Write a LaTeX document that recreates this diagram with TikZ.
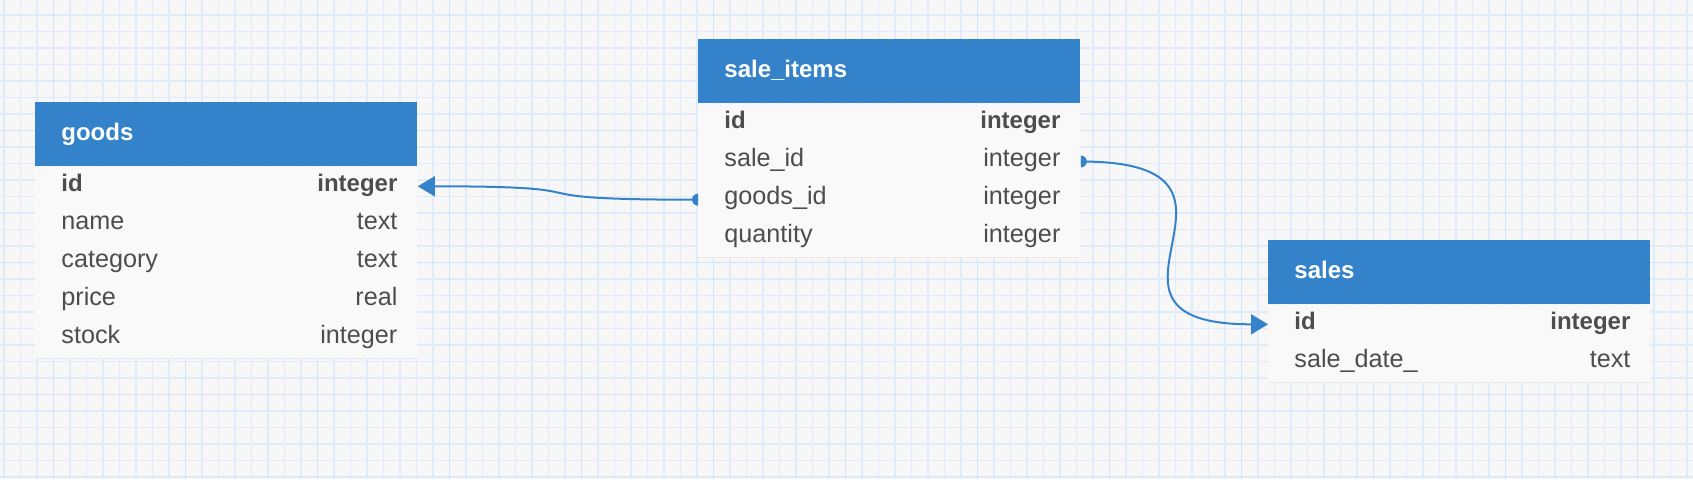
\documentclass[tikz,border=0pt]{standalone}
\usepackage{fontspec}
\setmainfont{Liberation Sans}
\usepackage{tikz}
\usetikzlibrary{positioning,arrows.meta,calc}
\definecolor{canvas}{HTML}{F7F7F8}
\definecolor{gridminor}{HTML}{E1EAF8}
\definecolor{gridmajor}{HTML}{D3E2F5}
\definecolor{hdrblue}{HTML}{3483CA}
\definecolor{rowbg}{HTML}{F9F9F9}
\definecolor{rowline}{HTML}{EBEBEB}
\definecolor{ink}{HTML}{4D4D4D}
\newcommand{\keyfont}{\fontsize{12}{14}\selectfont\bfseries}

\begin{document}
\begin{tikzpicture}[
    x=0.5pt, y=-0.5pt, font=\fontsize{12.6}{15}\selectfont,
    tbl/.style={fill=hdrblue, minimum width=191pt, minimum height=32pt,
      inner sep=0pt, anchor=north west},
    tbltitle/.style={anchor=base west, inner sep=0pt, text=white,
      font=\fontsize{12}{14}\selectfont\bfseries},
    tblrow/.style={fill=rowbg, minimum width=191pt, minimum height=19.1pt,
      inner sep=0pt, anchor=north west},
    fname/.style={anchor=base west, inner sep=0pt, text=ink},
    ftype/.style={anchor=base east, inner sep=0pt, text=ink},
    rowsep/.style={line width=0.5pt, draw=rowline},
    gmin/.style={line width=0.55pt, draw=gridminor},
    gmaj/.style={line width=0.75pt, draw=gridmajor},
    fk/.style={line width=1pt, draw=hdrblue,
      -{Triangle[length=8.5pt,width=10pt]}}
]
% canvas and grid
\fill[canvas] (0,0) rectangle (1693,479);
\useasboundingbox (0,0) rectangle (1693,479);
\foreach \k in {0,...,102}
  \draw[gmin] ({4+16.5*\k},0) -- ++(0,479);
\foreach \k in {1,...,29}
  \draw[gmin] (0,{-1.5+16.5*\k}) -- ++(1693,0);
\foreach \k in {0,...,12}
  \draw[gmaj] ({53.5+132*\k},0) -- ++(0,479);
\foreach \k in {1,2,3}
  \draw[gmaj] (0,{-1.5+132*\k}) -- ++(1693,0);

% goods
\node[tbl] (goods) at (35,102) {};
\node[tbltitle] (goodsT) at ([xshift=13pt,yshift=-3pt]goods.west) {goods};
\foreach \n/\t [count=\i] in {id/integer, name/text, category/text,
                              price/real, stock/integer}{
  \node[tblrow] (g\i) at ([yshift={-(\i-1)*19.1pt}]goods.south west) {};
  \node[fname] (gn\i) at ([xshift=13pt,yshift=-2.4pt]g\i.west)
    {\ifnum\i=1 \keyfont\fi\n};
  \node[ftype] (gt\i) at ([xshift=-10pt,yshift=-2.4pt]g\i.east)
    {\ifnum\i=1 \keyfont\fi\t};
  \draw[rowsep] (g\i.south west) -- (g\i.south east);
}

% sale_items
\node[tbl] (items) at (698,39) {};
\node[tbltitle] (itemsT) at ([xshift=13pt,yshift=-3pt]items.west) {sale\_items};
\foreach \n/\t [count=\i] in {id/integer, sale\_id/integer,
                              goods\_id/integer, quantity/integer}{
  \node[tblrow] (si\i) at ([yshift={-(\i-1)*19.1pt}]items.south west) {};
  \node[fname] (sin\i) at ([xshift=13pt,yshift=-2.4pt]si\i.west)
    {\ifnum\i=1 \keyfont\fi\n};
  \node[ftype] (sit\i) at ([xshift=-10pt,yshift=-2.4pt]si\i.east)
    {\ifnum\i=1 \keyfont\fi\t};
  \draw[rowsep] (si\i.south west) -- (si\i.south east);
}

% sales
\node[tbl] (sales) at (1268,240) {};
\node[tbltitle] (salesT) at ([xshift=13pt,yshift=-3pt]sales.west) {sales};
\foreach \n/\t [count=\i] in {id/integer, sale\_date\_/text}{
  \node[tblrow] (s\i) at ([yshift={-(\i-1)*19.1pt}]sales.south west) {};
  \node[fname] (sn\i) at ([xshift=13pt,yshift=-2.4pt]s\i.west)
    {\ifnum\i=1 \keyfont\fi\n};
  \node[ftype] (st\i) at ([xshift=-10pt,yshift=-2.4pt]s\i.east)
    {\ifnum\i=1 \keyfont\fi\t};
  \draw[rowsep] (s\i.south west) -- (s\i.south east);
}

% references
\draw[fk] (si3.west) .. controls +(-210,0) and +(210,0) .. (g1.east);
\fill[hdrblue] (si3.west) ++(0,3pt)
  arc[start angle=90, end angle=270, radius=3pt] -- cycle;
\draw[fk] (si2.east) .. controls +(210,0) and +(-210,0) .. (s1.west);
\fill[hdrblue] (si2.east) ++(0,3pt)
  arc[start angle=90, end angle=-90, radius=3pt] -- cycle;
\end{tikzpicture}
\end{document}
